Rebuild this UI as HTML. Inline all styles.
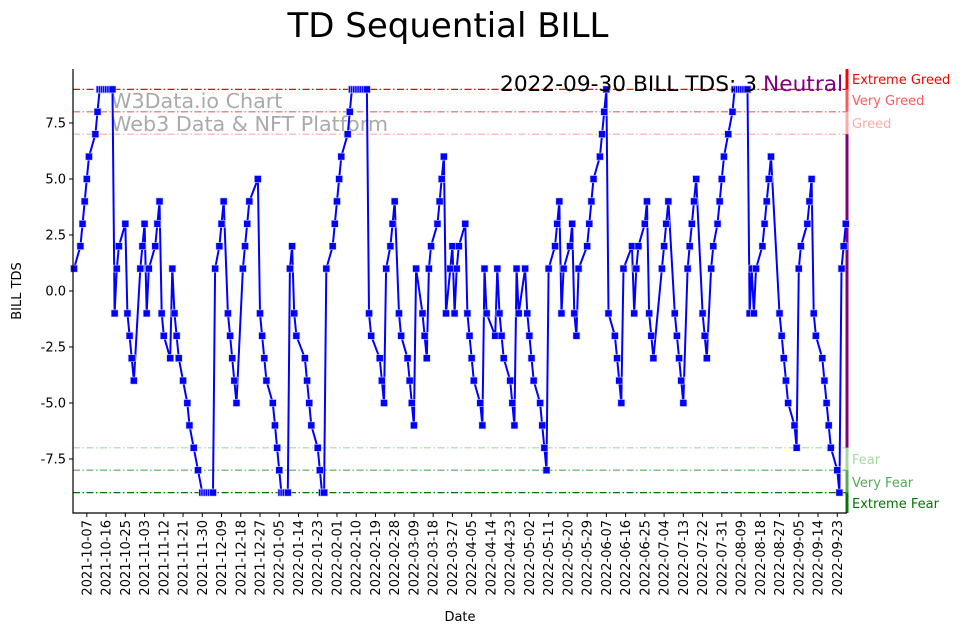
<!DOCTYPE html>
<html><head><meta charset="utf-8">
<style>
html,body{margin:0;padding:0;background:#fff;}
svg{display:block;font-family:"DejaVu Sans","Liberation Sans",sans-serif;}
</style></head>
<body>
<svg id="chart" width="967" height="633" viewBox="0 0 967 633" xmlns="http://www.w3.org/2000/svg">
  <text x="448" y="37" font-size="34" text-anchor="middle" fill="#000">TD Sequential BILL</text>
  <text x="111" y="108" font-size="20.7" fill="#aaa">W3Data.io Chart</text>
  <text x="111" y="131" font-size="20.7" fill="#aaa">Web3 Data &amp; NFT Platform</text>
  <g id="plot"></g>
  <text x="757" y="91" font-size="21.7" text-anchor="end" fill="#000">2022-09-30 BILL TDS: 3</text>
  <text x="763" y="91" font-size="21.7" fill="#800080">Neutral</text>
  <text x="21" y="291" font-size="13" text-anchor="middle" transform="rotate(-90 21 291)">BILL TDS</text>
  <text x="460" y="621" font-size="13" text-anchor="middle">Date</text>
</svg>
<script>
const days = [0,3,4,5,6,7,10,11,12,13,14,15,16,17,18,19,20,21,24,25,26,27,28,31,32,33,34,35,38,39,40,41,42,45,46,47,48,49,51,53,54,56,58,
60,61,62,63,64,65,
66,68,69,70,72,73,74,75,76,79,80,81,82,86,87,88,89,90,93,94,95,96,97,98,99,100,
101,102,103,104,108,109,110,111,114,115,116,117,
118,121,122,123,124,125,128,129,130,131,132,133,134,135,136,137,
138,139,143,144,145,146,148,149,150,152,153,156,157,158,159,
160,163,164,165,166,167,170,171,172,173,174,176,177,178,179,180,
183,184,185,186,187,190,191,192,193,197,198,199,200,201,204,205,206,207,208,
211,212,213,214,215,218,219,220,221,222,225,226,227,228,229,232,233,234,235,236,
240,241,242,243,246,247,248,249,250,253,254,255,256,257,261,262,263,264,267,268,269,270,271,
275,276,277,278,281,282,283,284,285,287,288,289,290,291,294,295,296,298,299,301,302,303,304,306,308,
309,310,311,312,313,314,315,316,317,318,319,322,323,324,325,326,330,331,332,333,334,337,338,339,340,343,344,345,346,347,350,351,352,353,354,357,358,359,360,361];
const tdsValues = [1,2,3,4,5,6,7,8,9,9,9,9,9,9,9,-1,1,2,3,-1,-2,-3,-4,1,2,3,-1,1,2,3,4,-1,-2,-3,1,-1,-2,-3,-4,-5,-6,-7,-8,
-9,-9,-9,-9,-9,-9,
1,2,3,4,-1,-2,-3,-4,-5,1,2,3,4,5,-1,-2,-3,-4,-5,-6,-7,-8,-9,-9,-9,-9,
1,2,-1,-2,-3,-4,-5,-6,-7,-8,-9,-9,
1,2,3,4,5,6,7,8,9,9,9,9,9,9,9,9,
-1,-2,-3,-4,-5,1,2,3,4,-1,-2,-3,-4,-5,-6,
1,-1,-2,-3,1,2,3,4,5,6,-1,1,2,-1,1,2,
3,-1,-2,-3,-4,-5,-6,1,-1,-2,1,-1,-2,-3,-4,-5,-6,1,-1,
1,-1,-2,-3,-4,-5,-6,-7,-8,1,2,3,4,-1,1,2,3,-1,-2,1,
2,3,4,5,6,7,8,9,-1,-2,-3,-4,-5,1,2,-1,1,2,3,4,-1,-2,-3,
1,2,3,4,-1,-2,-3,-4,-5,1,2,3,4,5,-1,-2,-3,1,2,3,4,5,6,7,8,
9,9,9,9,9,9,9,-1,1,-1,1,2,3,4,5,6,-1,-2,-3,-4,-5,-6,-7,1,2,3,4,5,-1,-2,-3,-4,-5,-6,-7,-8,-9,1,2,3];
const tickDays = [6,15,24,33,42,51,60,69,78,87,96,105,114,123,132,141,150,159,168,177,186,195,204,213,222,231,240,249,258,267,276,285,294,303,312,321,330,339,348,357];
const tickLabels = ["2021-10-07","2021-10-16","2021-10-25","2021-11-03","2021-11-12","2021-11-21","2021-11-30","2021-12-09","2021-12-18","2021-12-27","2022-01-05","2022-01-14","2022-01-23","2022-02-01","2022-02-10","2022-02-19","2022-02-28","2022-03-09","2022-03-18","2022-03-27","2022-04-05","2022-04-14","2022-04-23","2022-05-02","2022-05-11","2022-05-20","2022-05-29","2022-06-07","2022-06-16","2022-06-25","2022-07-04","2022-07-13","2022-07-22","2022-07-31","2022-08-09","2022-08-18","2022-08-27","2022-09-05","2022-09-14","2022-09-23"];
const yTicks = [-7.5,-5,-2.5,0,2.5,5,7.5];
const levelValues = [9,8,7,-7,-8,-9];
const levelNames = ["Extreme Greed","Very Greed","Greed","Fear","Very Fear","Extreme Fear"];
const levelColors = ["#ff0000","#ff5a5a","#ffaaaa","#a6d8a6","#55aa55","#007700"];

const NS="http://www.w3.org/2000/svg";
const plot=document.getElementById('plot');
const L=73,R=847,T=69,B=513;
function xScale(d){return 74+d*2.138;}
function yScale(v){return 291-v*22.4;}
function mk(tag,attrs,parent){const e=document.createElementNS(NS,tag);for(const k in attrs)e.setAttribute(k,attrs[k]);(parent||plot).appendChild(e);return e;}

levelValues.forEach((v,i)=>{
  const ln=mk('line',{x1:L,x2:R,y1:yScale(v),y2:yScale(v),stroke:levelColors[i],'stroke-width':1.2,'stroke-dasharray':'7,2.5,1.5,2.5'});
  
  
});
const zoneTops=[T,yScale(9),yScale(8),yScale(7),yScale(-7),yScale(-8),yScale(-9)];
const zoneBots=[yScale(9),yScale(8),yScale(7),yScale(-7),yScale(-8),yScale(-9),B];
const zoneCols=["#ff0000","#ff5a5a","#ffaaaa","#800080","#a6d8a6","#55aa55","#007700"];
zoneTops.forEach((t,i)=>{
  const r=mk('rect',{x:R-1.5,y:t,width:3,height:zoneBots[i]-t,fill:zoneCols[i]});
  
  
});
const labelYs=[79,100,123,459,482,503];
levelNames.forEach((n,i)=>{
  const t=mk('text',{x:852,y:labelYs[i]+5,'font-size':13,fill:levelColors[i]});
  t.textContent=n;
  
  
});

let dstr='';
const n=Math.min(days.length,tdsValues.length);
for(let i=0;i<n;i++){dstr+=(i?'L':'M')+xScale(days[i]).toFixed(1)+','+yScale(tdsValues[i]).toFixed(1);}
const path=mk('path',{d:dstr,fill:'none',stroke:'#0000ff','stroke-width':2,'stroke-linejoin':'round'});


for(let i=0;i<n;i++){
  const m=mk('rect',{x:xScale(days[i])-3.5,y:yScale(tdsValues[i])-3.5,width:7,height:7,fill:'#0000ff',stroke:'#d0d0ff','stroke-width':0.6});
  
  
}

const ax=mk('path',{d:`M${L},${T}V${B}H${R}`,fill:'none',stroke:'#000','stroke-width':1.2});


yTicks.forEach(v=>{
  const y=yScale(v);
  const tk=mk('line',{x1:L-4,x2:L,y1:y,y2:y,stroke:'#000','stroke-width':1});
  
  
  const t=mk('text',{x:L-7,y:y+4.5,'font-size':13,'text-anchor':'end'});
  t.textContent=v.toFixed(1);
  
  
});
tickDays.forEach((d,i)=>{
  const x=xScale(d);
  const tk=mk('line',{x1:x,x2:x,y1:B,y2:B+4,stroke:'#000','stroke-width':1});
  
  
  const t=mk('text',{x:x+4.5,y:B+7,'font-size':13,'text-anchor':'end',transform:`rotate(-90 ${x+4.5} ${B+7})`});
  t.textContent=tickLabels[i];
  
  
});
</script>
</body></html>
